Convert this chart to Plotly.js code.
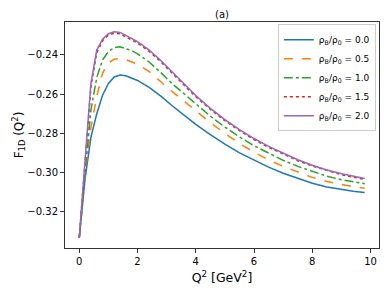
<!DOCTYPE html>
<html>
<head>
<meta charset="utf-8">
<script src="https://cdn.plot.ly/plotly-3.0.1.min.js"></script>
<style>html,body{margin:0;padding:0;background:#fff;}#chart{width:389px;height:292px;}</style>
</head>
<body>
<div id="chart"></div>
<script>
const q2 = [0, 0.2, 0.4, 0.6, 0.8, 1.0, 1.2, 1.4, 1.6, 1.8, 2.0, 2.4, 2.8, 3.2, 3.6, 4.0, 4.5, 5.0, 5.5, 6.0, 6.5, 7.0, 7.5, 8.0, 8.5, 9.0, 9.4, 9.8];
const rho00 = [-0.3332, -0.3030, -0.2820, -0.2700, -0.2605, -0.2545, -0.2512, -0.2502, -0.2506, -0.2517, -0.2530, -0.2565, -0.2610, -0.2660, -0.2708, -0.2754, -0.2806, -0.2855, -0.2899, -0.2937, -0.2972, -0.3003, -0.3030, -0.3054, -0.3073, -0.3087, -0.3095, -0.3101];
const rho05 = [-0.3332, -0.3010, -0.2770, -0.2610, -0.2492, -0.2440, -0.2422, -0.2418, -0.2424, -0.2434, -0.2447, -0.2485, -0.2538, -0.2588, -0.2636, -0.2684, -0.2745, -0.2800, -0.2851, -0.2896, -0.2935, -0.2968, -0.2998, -0.3024, -0.3045, -0.3062, -0.3072, -0.3079];
const rho10 = [-0.3332, -0.2985, -0.2680, -0.2515, -0.2425, -0.2383, -0.2362, -0.2358, -0.2367, -0.2378, -0.2394, -0.2436, -0.2490, -0.2548, -0.2598, -0.2650, -0.2712, -0.2768, -0.2818, -0.2863, -0.2902, -0.2937, -0.2968, -0.2995, -0.3018, -0.3036, -0.3047, -0.3056];
const rho15 = [-0.3331, -0.2962, -0.2563, -0.2388, -0.2328, -0.2299, -0.2289, -0.2292, -0.2307, -0.2321, -0.2339, -0.2382, -0.2435, -0.2494, -0.2556, -0.2613, -0.2677, -0.2735, -0.2786, -0.2831, -0.2871, -0.2907, -0.2939, -0.2966, -0.2990, -0.3010, -0.3023, -0.3034];
const rho20 = [-0.3330, -0.2950, -0.2545, -0.2375, -0.2320, -0.2292, -0.2282, -0.2285, -0.2300, -0.2314, -0.2332, -0.2375, -0.2428, -0.2488, -0.2550, -0.2607, -0.2672, -0.2730, -0.2781, -0.2826, -0.2866, -0.2902, -0.2934, -0.2962, -0.2986, -0.3006, -0.3019, -0.3030];
const seriesNames = ['ρ<sub>B</sub>/ρ<sub>0</sub> = 0.0', 'ρ<sub>B</sub>/ρ<sub>0</sub> = 0.5', 'ρ<sub>B</sub>/ρ<sub>0</sub> = 1.0', 'ρ<sub>B</sub>/ρ<sub>0</sub> = 1.5', 'ρ<sub>B</sub>/ρ<sub>0</sub> = 2.0'];
const yTicks = [-0.32, -0.30, -0.28, -0.26, -0.24];
const xTicks = [0, 2, 4, 6, 8, 10];

const seriesData = [rho00, rho05, rho10, rho15, rho20];
const colors = ['#1f77b4', '#ff7f0e', '#2ca02c', '#d62728', '#9467bd'];
const dashes = ['solid', 'dash', 'dashdot', 'dot', 'solid'];
const traces = seriesData.map((ys, i) => ({
  x: q2, y: ys, type: 'scatter', mode: 'lines', name: seriesNames[i],
  line: {color: colors[i], width: 1.5, dash: dashes[i]}
}));

const font = {family: 'DejaVu Sans', size: 10, color: '#000'};
const layout = {
  width: 389, height: 292,
  margin: {l: 65, r: 10, t: 22, b: 44, pad: 0},
  paper_bgcolor: '#fff', plot_bgcolor: '#fff',
  font: font,
  showlegend: true,
  title: {text: '(a)', font: {family: 'DejaVu Sans', size: 10, color: '#000'}, x: 0.5, xref: 'paper', xanchor: 'center', y: 0.952, yanchor: 'middle'},
  xaxis: {
    range: [-0.49, 10.29], tickvals: xTicks, ticktext: xTicks.map(String),
    showgrid: false, zeroline: false, showline: true, mirror: true,
    linecolor: '#333', linewidth: 1, ticks: 'outside', ticklen: 4, tickcolor: '#333',
    tickfont: {family: 'DejaVu Sans', size: 10, color: '#000'},
    title: {text: 'Q<sup>2</sup> [GeV<sup>2</sup>]', font: {family: 'DejaVu Sans', size: 12.5, color: '#000'}, standoff: 7}
  },
  yaxis: {
    range: [-0.3384, -0.2232], tickvals: yTicks, tickformat: '.2f',
    showgrid: false, zeroline: false, showline: true, mirror: true,
    linecolor: '#333', linewidth: 1, ticks: 'outside', ticklen: 4, tickcolor: '#333',
    tickfont: {family: 'DejaVu Sans', size: 10, color: '#000'},
    title: {text: 'F<sub>1D</sub> (Q<sup>2</sup>)', font: {family: 'DejaVu Sans', size: 12, color: '#000'}, standoff: 1}
  },
  legend: {
    x: 0.99, xanchor: 'right', y: 0.99, yanchor: 'top',
    bgcolor: 'rgba(255,255,255,0.8)', bordercolor: '#ccc', borderwidth: 1,
    font: {family: 'DejaVu Sans', size: 9, color: '#000'},
    tracegroupgap: 0, itemwidth: 30
  }
};
Plotly.newPlot('chart', traces, layout, {displayModeBar: false, staticPlot: true});
</script>
</body>
</html>
